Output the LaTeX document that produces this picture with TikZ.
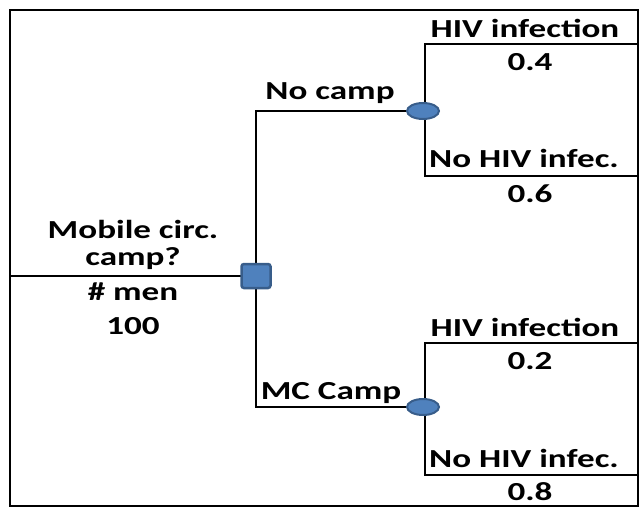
\documentclass[tikz,border=0pt]{standalone}
\usepackage{fontspec}
\setmainfont{Carlito}[FakeStretch=1.35]
\usetikzlibrary{shapes.geometric,backgrounds}
\definecolor{nodefill}{HTML}{4F81BD}
\definecolor{nodeedge}{HTML}{385D8A}
\begin{document}
\begin{tikzpicture}[x=1pt,y=-1pt,
  lbl/.style={font=\fontsize{26}{30}\selectfont\bfseries, inner sep=0pt, anchor=center},
  branch/.style={draw=black, line width=2pt},
  decision/.style={draw=nodeedge, fill=nodefill, line width=2.5pt, rounded corners=2.5pt, minimum width=29pt, minimum height=24pt, inner sep=0pt},
  chance/.style={ellipse, draw=nodeedge, fill=nodefill, line width=2pt, minimum width=32pt, minimum height=16pt, inner sep=0pt}]
\useasboundingbox (0,0) rectangle (639,508);
\draw[line width=2pt] (10,10) rectangle (638,506);
% nodes
\node[decision] (dec) at (256,276) {};
\node[chance] (c1) at (423,111) {};
\node[chance] (c2) at (423,407) {};
\coordinate (root) at (10,276);
\coordinate (u1) at (425,44);
\coordinate (u2) at (425,176);
\coordinate (l1) at (425,343);
\coordinate (l2) at (425,475);
\coordinate (u1e) at (639,44);
\coordinate (u2e) at (639,176);
\coordinate (l1e) at (639,343);
\coordinate (l2e) at (639,475);
\begin{pgfonlayer}{background}
\draw[branch] (root) -- (dec.center);
\draw[branch] (dec.center) |- (c1.center);
\draw[branch] (dec.center) |- (c2.center);
\draw[branch] (u1e) -- (u1) -- (u2) -- (u2e);
\draw[branch] (l1e) -- (l1) -- (l2) -- (l2e);
\end{pgfonlayer}
% labels
\node[lbl] (t1) at (525,28) {HIV infection};
\node[lbl] (p1) at (530,62) {0.4};
\node[lbl] (t2) at (524,158) {No HIV infec.};
\node[lbl] (p2) at (530,194) {0.6};
\node[lbl] (t3) at (525,327) {HIV infection};
\node[lbl] (p3) at (530,361) {0.2};
\node[lbl] (t4) at (524,458) {No HIV infec.};
\node[lbl] (p4) at (530,492) {0.8};
\node[lbl] (a1) at (330,93) {No camp};
\node[lbl] (a2) at (331,393) {MC Camp};
\node[lbl] (m1) at (133,229) {Mobile circ.};
\node[lbl] (m2) at (133,259) {camp?};
\node[lbl] (m3) at (133,292) {\# men};
\node[lbl] (m4) at (133,326) {100};
\end{tikzpicture}
\end{document}
